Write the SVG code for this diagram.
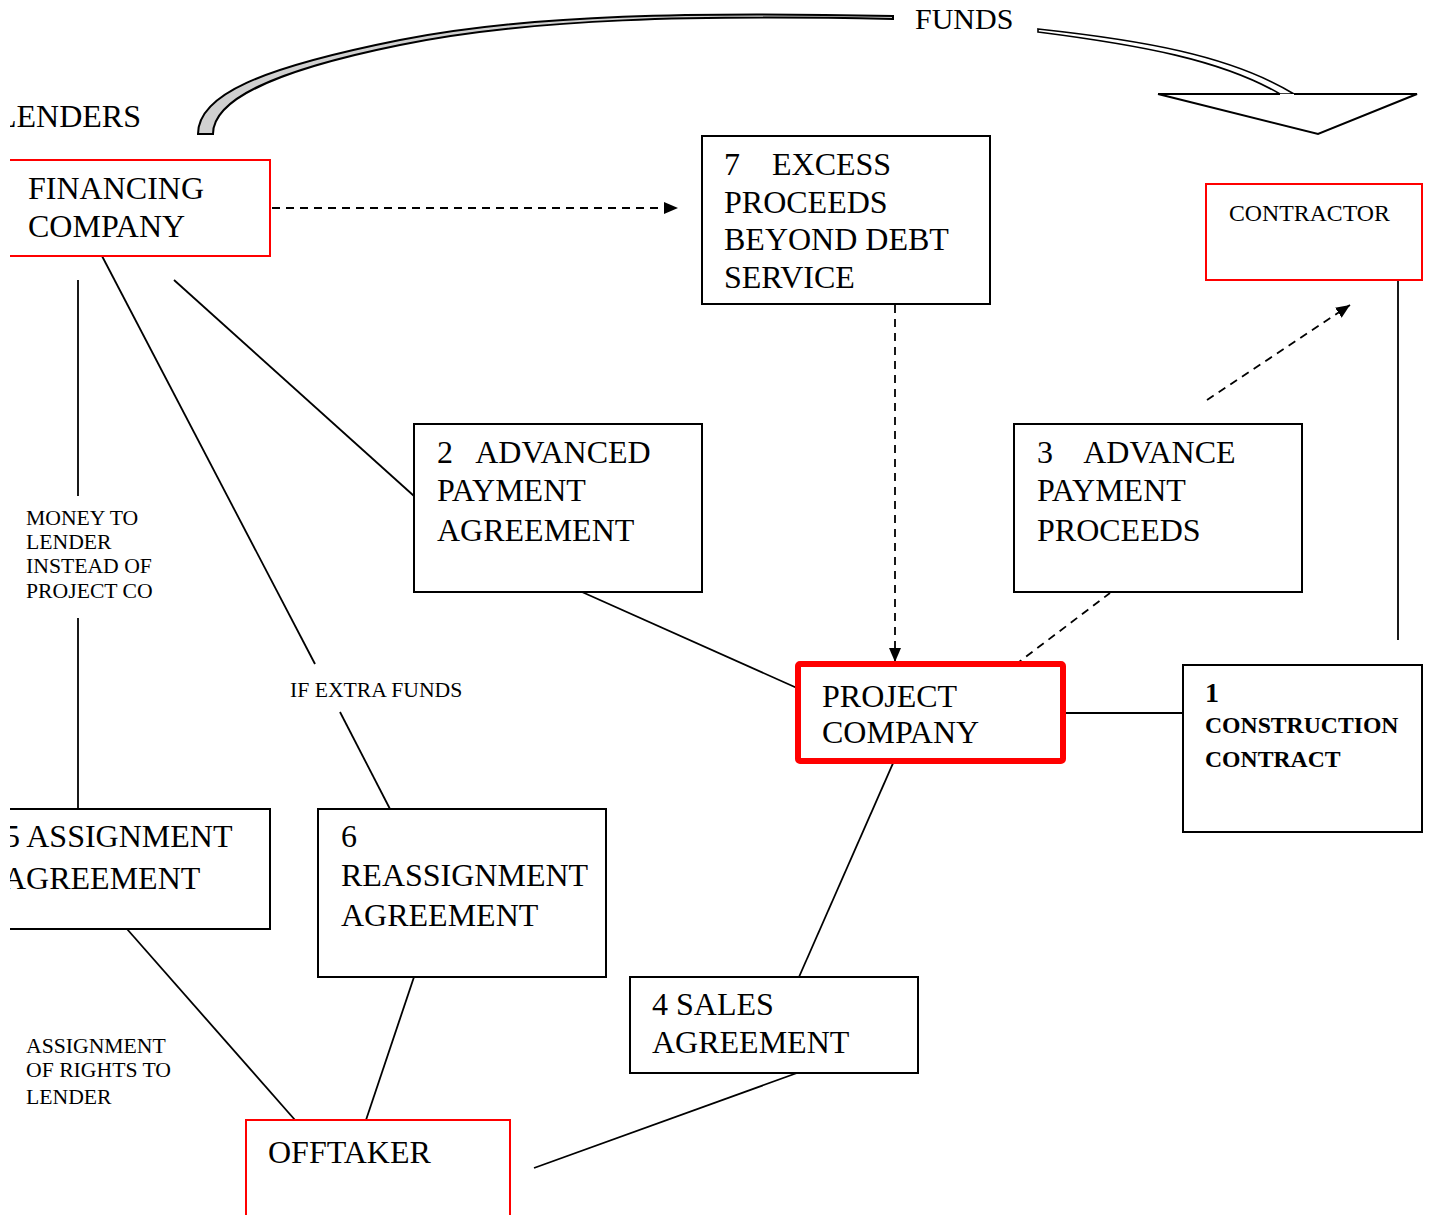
<svg xmlns="http://www.w3.org/2000/svg" width="1430" height="1215" viewBox="0 0 1430 1215">
<style>
text{font-family:"Liberation Serif","Times New Roman",serif;fill:#000}
.big{font-size:32px}
.small{font-size:21.7px}
.box{fill:#fff;stroke:#000;stroke-width:2}
.rbox{fill:#fff;stroke:#f00;stroke-width:2}
.ln{stroke:#000;stroke-width:1.8;fill:none}
.dash{stroke:#000;stroke-width:1.8;fill:none;stroke-dasharray:8 6}
</style>
<defs>
<clipPath id="pg"><rect x="10" y="0" width="1420" height="1215"/></clipPath>
<marker id="ah" viewBox="0 0 14 12" refX="14" refY="6" markerWidth="14" markerHeight="12" markerUnits="userSpaceOnUse" orient="auto">
<path d="M0,0 L14,6 L0,12 Z" fill="#000"/>
</marker>
</defs>
<rect width="1430" height="1215" fill="#fff"/>
<g clip-path="url(#pg)">
<g id="funds-arrow">
<path d="M198,134 C198,95 260,68 400,40 C530,14 700,12 893,16 L893,19 C700,15 530,18 400,45 C272,71 213,100 213,134 Z" fill="#d0d0d0" stroke="#000" stroke-width="2"/>
<path d="M1038,29 C1140,40 1230,55 1294,94 L1280,94 C1222,60 1140,45 1038,32 Z" fill="#fff" stroke="#000" stroke-width="1.6"/>
<path d="M1158,94 L1280,94 M1294,94 L1417,94 L1318,134 L1158,94" fill="#fff" stroke="#000" stroke-width="2"/>
<text x="915" y="29" style="font-size:30px">FUNDS</text>
</g>
<g id="lenders"><text class="big" x="-3" y="127">LENDERS</text></g>
<g id="connectors">
<line class="dash" x1="272" y1="208" x2="678" y2="208" marker-end="url(#ah)"/>
<line class="dash" x1="895" y1="305" x2="895" y2="662" marker-end="url(#ah)"/>
<line class="dash" x1="1207" y1="400" x2="1350" y2="305" marker-end="url(#ah)"/>
<line class="dash" x1="1015" y1="665" x2="1110" y2="593"/>
<line class="ln" x1="1398" y1="280" x2="1398" y2="640"/>
<line class="ln" x1="78" y1="280" x2="78" y2="496"/>
<line class="ln" x1="78" y1="618" x2="78" y2="809"/>
<line class="ln" x1="102" y1="256" x2="315" y2="664"/>
<line class="ln" x1="340" y1="712" x2="390" y2="809"/>
<line class="ln" x1="174" y1="280" x2="414" y2="496"/>
<line class="ln" x1="582" y1="592" x2="797" y2="688"/>
<line class="ln" x1="1063" y1="713" x2="1183" y2="713"/>
<line class="ln" x1="894" y1="761" x2="799" y2="977"/>
<line class="ln" x1="797" y1="1073" x2="534" y2="1168"/>
<line class="ln" x1="414" y1="977" x2="366" y2="1120"/>
<line class="ln" x1="127" y1="929" x2="295" y2="1120"/>
<text class="small" x="26" y="525">MONEY TO</text>
<text class="small" x="26" y="549">LENDER</text>
<text class="small" x="26" y="573">INSTEAD OF</text>
<text class="small" x="26" y="598">PROJECT CO</text>
<text class="small" x="290" y="697">IF EXTRA FUNDS</text>
<text class="small" x="26" y="1053">ASSIGNMENT</text>
<text class="small" x="26" y="1077">OF RIGHTS TO</text>
<text class="small" x="26" y="1104">LENDER</text>
</g>
<g id="financing-company">
<rect class="rbox" x="0" y="160" width="270" height="96"/>
<text class="big" x="28" y="199">FINANCING</text>
<text class="big" x="28" y="237">COMPANY</text>
</g>
<g id="excess-proceeds">
<rect class="box" x="702" y="136" width="288" height="168"/>
<text class="big" x="724" y="175" xml:space="preserve">7    EXCESS</text>
<text class="big" x="724" y="213">PROCEEDS</text>
<text class="big" x="724" y="250">BEYOND DEBT</text>
<text class="big" x="724" y="288">SERVICE</text>
</g>
<g id="contractor">
<rect class="rbox" x="1206" y="184" width="216" height="96"/>
<text x="1229" y="221" style="font-size:23.8px">CONTRACTOR</text>
</g>
<g id="advanced-payment-agreement">
<rect class="box" x="414" y="424" width="288" height="168"/>
<text class="big" x="437" y="463" xml:space="preserve">2   ADVANCED</text>
<text class="big" x="437" y="501">PAYMENT</text>
<text class="big" x="437" y="541">AGREEMENT</text>
</g>
<g id="advance-payment-proceeds">
<rect class="box" x="1014" y="424" width="288" height="168"/>
<text class="big" x="1037" y="463" xml:space="preserve">3    ADVANCE</text>
<text class="big" x="1037" y="501">PAYMENT</text>
<text class="big" x="1037" y="541">PROCEEDS</text>
</g>
<g id="project-company">
<rect x="798" y="664" width="265" height="97" rx="2" fill="#fff" stroke="#f00" stroke-width="6"/>
<text class="big" x="822" y="707">PROJECT</text>
<text class="big" x="822" y="743">COMPANY</text>
</g>
<g id="construction-contract">
<rect class="box" x="1183" y="665" width="239" height="167"/>
<text x="1205" y="702" style="font-size:28px;font-weight:bold">1</text>
<text x="1205" y="733" style="font-size:23.7px;font-weight:bold">CONSTRUCTION</text>
<text x="1205" y="767" style="font-size:23.7px;font-weight:bold">CONTRACT</text>
</g>
<g id="assignment-agreement">
<rect class="box" x="0" y="809" width="270" height="120"/>
<text class="big" x="4" y="847">5 ASSIGNMENT</text>
<text class="big" x="3" y="889">AGREEMENT</text>
</g>
<g id="reassignment-agreement">
<rect class="box" x="318" y="809" width="288" height="168"/>
<text class="big" x="341" y="847">6</text>
<text class="big" x="341" y="886">REASSIGNMENT</text>
<text class="big" x="341" y="926">AGREEMENT</text>
</g>
<g id="sales-agreement">
<rect class="box" x="630" y="977" width="288" height="96"/>
<text class="big" x="652" y="1015">4 SALES</text>
<text class="big" x="652" y="1053">AGREEMENT</text>
</g>
<g id="offtaker">
<rect class="rbox" x="246" y="1120" width="264" height="110"/>
<text class="big" x="268" y="1163">OFFTAKER</text>
</g>
</g>
</svg>
